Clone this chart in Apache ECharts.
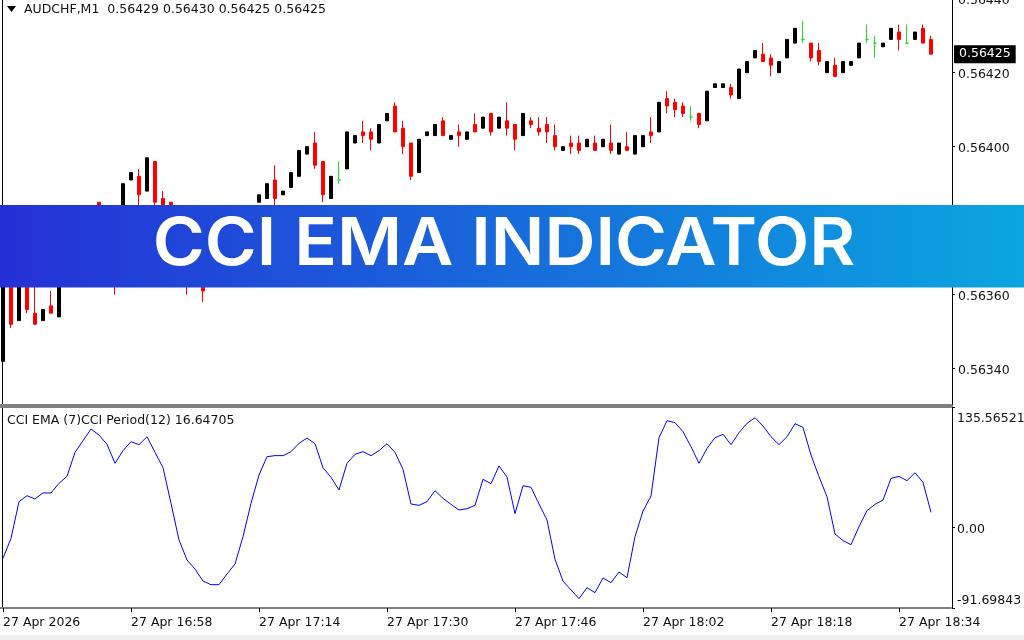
<!DOCTYPE html>
<html><head><meta charset="utf-8">
<style>html,body{margin:0;padding:0;background:#fff}#c{width:1024px;height:640px}</style>
<script src="https://cdn.jsdelivr.net/npm/echarts@6/dist/echarts.min.js"></script>
</head><body><div id="c"></div>
<script>
const basePrice = 0.564, pointSize = 0.00001;
// candle values in points from 0.56400
const opens = [-58,-33,-47,-30,-45,-47,-43,-46,-34,-30,
 -26,-22,-15,-20,-18,-20,-9,-8,-12,-4,
 -14,-15,-20,-25,-30,-33,-37,-33,-29,-31,
 -26,-21,-15,-14,-9,-13,-11,-8,-2,1,
 -4,-14,-9,-6,1,4,4,1,7,11,
 5,1,-7,3,3,7,2,4,2,6,
 5,9,5,7,6,3,7,5,6,3,
 -1,1,1,0,1,0,1,-2,0,-2,
 0,4,4,13,12,11,8,9,7,16,
 16,16,13,20,24,25,24,20,24,28,
 29,28,26,20,22,20,22,24,29,28,
 27,29,31,28,29,32,29];
const closes = [-30,-48,-30,-44,-48,-44,-45,-34,-30,-26,
 -22,-18,-19,-17,-25,-10,-7,-13,-3,-15,
 -18,-19,-25,-30,-35,-39,-33,-29,-31,-26,
 -21,-17,-13,-10,-14,-12,-7,-1,0,-5,
 -13,-8,-9,4,3,3,2,6,9,4,
 0,-8,2,4,6,3,3,3,4,4,
 8,4,8,5,2,9,6,4,4,0,
 0,0,-1,2,-1,2,-1,1,-1,3,
 3,3,12,11,10,9,8,6,15,17,
 17,14,21,23,26,23,22,23,29,32,
 29,24,23,23,19,23,23,28,29,28,
 28,32,29,28,31,28,25];
const lows = [-58,-49,-47,-45,-48,-47,-45,-46,-34,-30,
 -26,-22,-20,-20,-40,-20,-9,-19,-12,-18,
 -22,-20,-27,-40,-37,-42,-37,-33,-32,-31,
 -26,-21,-15,-14,-17,-13,-11,-8,-2,-6,
 -15,-14,-10,-6,1,1,-1,1,7,4,
 -2,-9,-7,3,3,3,2,0,2,4,
 5,3,5,3,-1,3,5,3,1,-1,
 -1,-2,-2,0,-1,0,-2,-2,-1,-2,
 0,1,4,9,8,8,7,5,7,16,
 16,13,13,20,24,23,19,20,24,28,
 28,23,22,20,19,20,22,24,28,24,
 27,29,26,28,29,28,25];
const highs = [-30,-32,-30,-30,-36,-44,-39,-34,-30,-26,
 -22,-18,-15,-17,-17,-10,-7,-6,-3,-4,
 -12,-15,-19,-22,-28,-30,-33,-29,-28,-26,
 -21,-17,-13,-10,-5,-12,-7,-1,0,4,
 -4,-8,-4,4,3,7,5,6,9,12,
 7,1,2,4,6,8,3,6,4,9,
 8,9,8,12,6,9,8,8,8,6,
 0,3,3,2,3,2,6,1,4,3,
 3,8,12,15,13,12,11,9,15,17,
 17,17,21,23,26,28,25,23,29,32,
 34,28,28,23,24,23,23,28,33,30,
 28,32,33,33,31,33,30];
const cciValues = [-35.3,-12.7,28.8,35.5,31.8,38.6,38.6,49.5,57.4,84.5,
 97.7,110.9,104.1,93.6,72.1,86.4,96.6,93.2,102.2,84.5,
 67.2,26.9,-14.6,-37.2,-47.4,-61.0,-65.1,-65.1,-53.0,-41.7,
 -10.8,26.9,58.9,79.6,80.8,80.8,85.3,94.7,100.7,94.3,
 67.2,56.3,42.0,72.1,82.3,85.3,80.8,86.4,94.3,84.5,
 65.3,26.1,24.6,28.8,41.2,32.5,25.7,19.3,20.8,24.6,
 54.0,49.1,69.1,56.6,15.2,46.8,45.0,26.1,8.0,-36.4,
 -61.0,-71.1,-80.9,-68.5,-74.1,-57.5,-62.8,-50.8,-57.2,-10.8,
 18.2,35.2,101.1,120.3,118.1,107.9,90.9,72.1,89.0,101.1,
 104.9,93.2,106.8,117.3,123.7,114.3,102.2,93.2,102.2,116.9,
 112.8,81.5,57.0,34.4,-7.8,-15.3,-19.9,0.5,18.6,25.7,
 30.6,55.1,57.4,52.5,61.5,50.6,16.65];
const timeTicks = ['27 Apr 2026','27 Apr 16:58','27 Apr 17:14','27 Apr 17:30','27 Apr 17:46','27 Apr 18:02','27 Apr 18:18','27 Apr 18:34'];
const priceTicks = [0.5644,0.5642,0.5640,0.5638,0.5636,0.5634];
const cciTicks = [135.56521,0,-91.69843];
const barCount = 119, tickEvery = 16;
const lastPrice = 0.56425;
const headerText = 'AUDCHF,M1  0.56429 0.56430 0.56425 0.56425';
const cciHeader = 'CCI EMA (7)CCI Period(12) 16.64705';
const bannerText = 'CCI EMA INDICATOR';

const categories = Array.from({length:barCount},(_,i)=> i%tickEvery===0 ? (timeTicks[i/tickEvery]||'') : '');
const toPrice = p => +(basePrice + p*pointSize).toFixed(5);
const candles = opens.map((o,i)=>[toPrice(o),toPrice(closes[i]),toPrice(lows[i]),toPrice(highs[i])]);

const font = '"DejaVu Sans"', fs = 12.5, ink = '#111';
const priceMin = 0.56329919, priceMax = 0.5644, cciMin = -91.69843, cciMax = 135.56521;
const edgeAxis = (grid,pos,offset,extra) => Object.assign({
  type:'value', gridIndex:grid, position:pos, offset, scale:true,
  splitLine:{show:false}, axisLine:{show:true,lineStyle:{color:'#000',width:1}},
  axisTick:{show:false}, axisLabel:{show:false}
},extra);
const spacer = h => ({lineHeight:h,fontSize:1,color:'rgba(0,0,0,0)'});
const textRow = {lineHeight:14,fontFamily:font,fontSize:fs,color:ink};

const chart = echarts.init(document.getElementById('c'),null,{renderer:'canvas'});
chart.setOption({
  animation:false,
  backgroundColor:'#fff',
  title:[
    {text:headerText,left:24,top:3,padding:0,textStyle:{fontFamily:font,fontSize:fs,fontWeight:'normal',color:ink}},
    {text:cciHeader,left:7,top:414,padding:0,textStyle:{fontFamily:font,fontSize:fs,fontWeight:'normal',color:ink}}
  ],
  grid:[
    {left:-1,top:-1.3,width:952,height:407.3,outerBoundsMode:'none'},
    {left:-1,top:407.2,width:952,height:201,outerBoundsMode:'none'}
  ],
  xAxis:[
    {type:'category',gridIndex:0,data:categories,axisLine:{onZero:false,lineStyle:{color:'#808080',width:4}},axisTick:{show:false},axisLabel:{show:false},splitLine:{show:false}},
    {type:'category',gridIndex:1,data:categories,axisLine:{onZero:false,lineStyle:{color:'#808080',width:2}},
     axisTick:{show:true,interval:15,alignWithLabel:true,length:4,lineStyle:{color:'#000'}},
     axisLabel:{show:true,interval:15,align:'left',margin:8,hideOverlap:false,fontFamily:font,fontSize:fs,color:ink},splitLine:{show:false}}
  ],
  yAxis:[
    edgeAxis(0,'right',1,{min:priceMin,max:priceMax,
      axisTick:{show:true,length:3,customValues:priceTicks,lineStyle:{color:'#000'}},
      axisLabel:{show:true,margin:6,customValues:priceTicks,formatter:v=>'{s4| }\n{t|'+v.toFixed(5)+'}',
        rich:{t:textRow,s4:spacer(4)}}}),
    edgeAxis(1,'right',1,{min:cciMin,max:cciMax,
      axisTick:{show:true,length:3,customValues:cciTicks,lineStyle:{color:'#000'}},
      axisLabel:{show:true,margin:5,customValues:cciTicks,
        formatter:v=> v>1 ? '{top| }\n{t|'+v.toFixed(5)+'}' : v<-1 ? '{t|'+v.toFixed(5)+'}\n{bot| }' : '{mid| }\n{t|0.00}',
        rich:{t:textRow,top:spacer(23.6),mid:spacer(6),bot:spacer(14.4)}}}),
    edgeAxis(0,'left',-3,{min:priceMin,max:priceMax}),
    edgeAxis(1,'left',-3,{min:cciMin,max:cciMax}),
    edgeAxis(0,'right',1,{min:priceMin,max:priceMax,axisLine:{show:false},
      axisLabel:{show:true,margin:2,customValues:[lastPrice],formatter:v=>v.toFixed(5),backgroundColor:'#000',color:'#fff',
        padding:[3,5,2,5],fontFamily:font,fontSize:fs}})
  ],
  series:[
    {type:'candlestick',name:'AUDCHF',xAxisIndex:0,yAxisIndex:0,data:candles,barWidth:4,
     itemStyle:{color:'#000',color0:'#ff0000',borderColor:'#000',borderColor0:'#ff0000',borderColorDoji:'#1fe01f',borderWidth:1}},
    {type:'line',name:'CCI EMA',xAxisIndex:1,yAxisIndex:1,data:cciValues,showSymbol:false,symbol:'none',
     lineStyle:{color:'#0000ff',width:1},itemStyle:{color:'#0000ff'},z:3}
  ],
  graphic:[
    {type:'rect',z:900,shape:{x:0,y:635,width:1024,height:5},style:{fill:'#f0f0f0'}},
    {type:'polygon',z:900,shape:{points:[[7,6],[16,6],[11.5,12]]},style:{fill:'#000'}},
    {type:'rect',z:1000,shape:{x:0,y:205,width:1024,height:82.5},
     style:{fill:new echarts.graphic.LinearGradient(0,0,1,0,[{offset:0,color:'#2530d6'},{offset:1,color:'#0aa6e0'}])}},
    {type:'text',z:1001,x:504,y:245.5,scaleX:1.07,style:{text:bannerText,fill:'#fff',font:'600 66px Inter',textAlign:'center',textVerticalAlign:'middle'}}
  ]
});
</script></body></html>
